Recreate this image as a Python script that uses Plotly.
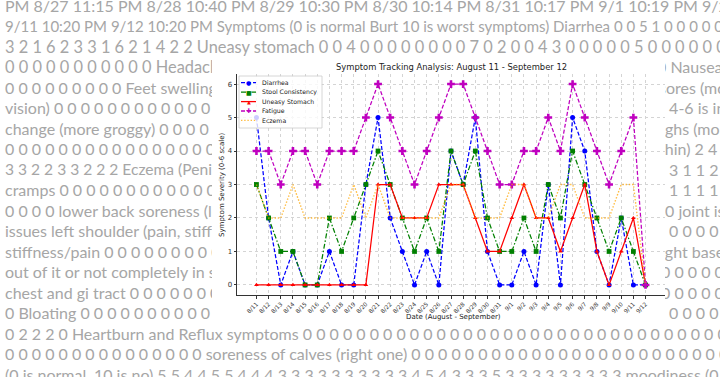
import plotly.graph_objects as go

W, H = 720, 377

# ---------------- chart data ----------------
dates = ["8/11", "8/12", "8/13", "8/14", "8/15", "8/16", "8/17", "8/18", "8/19", "8/20",
         "8/21", "8/22", "8/23", "8/24", "8/25", "8/26", "8/27", "8/28", "8/29", "8/30",
         "8/31", "9/1", "9/2", "9/3", "9/4", "9/5", "9/6", "9/7", "9/8", "9/9",
         "9/10", "9/11", "9/12"]
diarrhea = [5, 2, 0, 1, 0, 0, 1, 0, 0, 3, 5, 2, 1, 0, 1, 0, 4, 3, 5, 1, 0, 0, 1, 0, 3, 0, 5, 4, 1, 0, 2, 0, 0]
stool = [3, 2, 1, 1, 0, 0, 2, 1, 2, 3, 4, 3, 2, 1, 2, 1, 4, 3, 4, 2, 1, 1, 2, 1, 3, 2, 4, 3, 2, 1, 2, 1, 0]
uneasy = [0, 0, 0, 0, 0, 0, 0, 0, 0, 0, 3, 3, 2, 2, 2, 3, 3, 3, 2, 1, 1, 2, 3, 2, 2, 1, 2, 3, 1, 0, 1, 2, 0]
fatigue = [4, 4, 3, 4, 4, 3, 4, 4, 4, 5, 6, 5, 4, 3, 4, 5, 6, 6, 5, 4, 3, 3, 4, 4, 5, 4, 6, 5, 4, 3, 4, 5, 0]
eczema = [3, 2, 2, 3, 2, 2, 2, 2, 3, 2, 3, 2, 2, 2, 2, 2, 3, 3, 2, 2, 2, 3, 3, 2, 2, 3, 3, 2, 2, 2, 3, 3, 0]

series_names = ["Diarrhea", "Stool Consistency", "Uneasy Stomach", "Fatigue", "Eczema"]
chart_title = "Symptom Tracking Analysis: August 11 - September 12"
x_title = "Date (August - September)"
y_title = "Symptom Severity (0-6 scale)"
y_ticks = [0, 1, 2, 3, 4, 5, 6]

# ---------------- background document text ----------------
Z = "0 "
top_lines = [
    "PM 8/27 11:15 PM 8/28 10:40 PM 8/29 10:30 PM 8/30 10:14 PM 8/31 10:17 PM 9/1 10:19 PM 9/2 9:52 PM 9/3",
    "9/11 10:20 PM 9/12 10:20 PM Symptoms (0 is normal Burt 10 is worst symptoms) Diarrhea 0 0 5 1 0 0 0 0 0",
    "3 2 1 6 2 3 3 1 6 2 1 4 2 2 Uneasy stomach 0 0 4 0 0 0 0 0 0 0 0 7 0 2 0 0 4 3 0 0 0 0 0 5 0 0 0 0 0 0 0 3 0 0 0",
]
left_lines = [
    Z * 11 + "Headache 0 0 0",
    Z * 9 + "Feet swelling (ankles)",
    "vision) " + Z * 16,
    "change (more groggy) " + Z * 12,
    Z * 20,
    "3 3 2 2 3 3 2 2 2 Eczema (Penis area)",
    "cramps " + Z * 18,
    Z * 4 + "lower back soreness (left side)",
    "issues left shoulder (pain, stiffness)",
    "stiffness/pain " + Z * 16,
    "out of it or not completely in sync",
    "chest and gi tract " + Z * 16,
    "0 Bloating " + Z * 16,
]
right_lines = [
    "0 Nausea 0 0",
    "sores (mouth)",
    " 4-6 is in",
    "ughs (more",
    "thin) 2 4 4 4",
    " 3 1 1 2 2 2",
    " 1 1 1 1 1 1",
    "0 joint is",
    " 0 0 0 0 0 0",
    "ight base",
    "0 0 0 0 0 0",
    "0 0 0 0 0 0",
    " 0 0 0 0 (",
]
right_x = [657, 659, 665, 656, 659, 665, 665, 665, 665, 661, 661, 661, 665]
bottom_lines = [
    "0 2 2 2 0 Heartburn and Reflux symptoms " + Z * 40,
    Z * 15 + "soreness of calves (right one) " + Z * 30,
    "(0 is normal, 10 is no) 5 5 4 4 5 5 4 4 4 3 3 3 3 3 3 3 3 3 3 4 5 4 3 3 3 5 3 3 3 3 3 3 3 3 3 moodiness (0 not",
]

fig = go.Figure()

# ---------------- main chart traces ----------------
colors = ["#0000ff", "#008000", "#ff0000", "#bf00bf", "rgba(255,165,0,0.75)"]
dashes = ["4px,2px", "5px,2px,1.5px,2px", "solid", "4px,2px", "1.4px,1.8px"]
symbols = ["circle", "square", "triangle-up", "cross", None]
msizes = [5, 4.8, 4.2, 6.5, 0]
widths = [1.25, 1.25, 1.25, 1.25, 1.4]
values = [diarrhea, stool, uneasy, fatigue, eczema]

for name, vals, c, d, s, ms, lw in zip(series_names, values, colors, dashes, symbols, msizes, widths):
    tr = dict(x=dates, y=vals, name=name, line=dict(color=c, width=lw, dash=d),
              showlegend=False, cliponaxis=False, hoverinfo="x+y+name")
    if s:
        tr["mode"] = "lines+markers"
        tr["marker"] = dict(symbol=s, size=ms, color=c, line=dict(width=0))
    else:
        tr["mode"] = "lines"
    fig.add_trace(go.Scatter(**tr))

# ---------------- background text traces (clipped bands) ----------------
BG_FONT, BG_COLOR = "Lato", "#a6a6a6"
Y0, DY = 7.5, 20.5
line_y = [Y0 + DY * i for i in range(19)]

def text_trace(xs, ys, texts, sizes, n):
    return go.Scatter(x=xs, y=ys, text=texts, mode="text", textposition="middle right",
                      textfont=dict(family=BG_FONT, size=sizes, color=BG_COLOR),
                      xaxis=f"x{n}", yaxis=f"y{n}", hoverinfo="skip",
                      showlegend=False, cliponaxis=True)

left_sizes = [16.4, 16, 16, 16, 16, 15.6, 16, 16, 16, 16, 16, 16, 16]
fig.add_trace(text_trace([5] * 3, line_y[0:3], top_lines, [16, 15, 16.4], 2))
fig.add_trace(text_trace([5] * 3, line_y[16:19], bottom_lines, [16, 16, 16], 3))
fig.add_trace(text_trace([5] * 13, line_y[3:16], left_lines, left_sizes, 4))
fig.add_trace(text_trace(right_x, line_y[3:16], right_lines, [16] * 13, 5))

BOX_T, BOX_B, BOX_L, BOX_R = 60, 324, 212, 665

def band_axes(n, x0, x1, y0, y1):
    return {
        f"xaxis{n}": dict(domain=[x0 / W, x1 / W], range=[x0, x1], visible=False,
                          fixedrange=True, anchor=f"y{n}"),
        f"yaxis{n}": dict(domain=[1 - y1 / H, 1 - y0 / H], range=[y1, y0], visible=False,
                          fixedrange=True, anchor=f"x{n}"),
    }

layout_axes = {}
layout_axes.update(band_axes(2, 0, W, 0, BOX_T))
layout_axes.update(band_axes(3, 0, W, BOX_B, H))
layout_axes.update(band_axes(4, 0, BOX_L, BOX_T, BOX_B))
layout_axes.update(band_axes(5, BOX_R, W, BOX_T, BOX_B))

# ---------------- plot area geometry ----------------
PL, PR, PT, PB = 237, 665, 74, 295

def fx(x):
    return x / W

def fy(y):
    return 1 - y / H

AX_COL = "#333333"
GRID = "#d4d4d4"

fig.update_layout(
    width=W, height=H, autosize=False,
    margin=dict(l=0, r=0, t=0, b=0, pad=0),
    paper_bgcolor="white", plot_bgcolor="white",
    showlegend=False,
    xaxis=dict(domain=[fx(PL), fx(PR)], type="category", range=[-1.6, len(dates) - 1 + 1.6],
               tickangle=-45, tickfont=dict(family="DejaVu Sans", size=5.8, color=AX_COL),
               showgrid=True, gridcolor=GRID, griddash="dot", gridwidth=0.8,
               showline=True, linecolor=AX_COL, linewidth=1, ticks="outside", ticklen=2.5,
               tickcolor=AX_COL, tickwidth=0.8, zeroline=False, fixedrange=True, anchor="y"),
    yaxis=dict(domain=[fy(PB), fy(PT)], range=[-0.3, 6.3], tickvals=y_ticks,
               tickfont=dict(family="DejaVu Sans", size=7, color=AX_COL),
               showgrid=True, gridcolor=GRID, griddash="dot", gridwidth=0.8,
               showline=True, linecolor=AX_COL, linewidth=1, ticks="outside", ticklen=2.5,
               tickcolor=AX_COL, tickwidth=0.8, zeroline=False, fixedrange=True, anchor="x"),
    **layout_axes,
)

def ann(text, x, y, size, color="#222", xanchor="center", angle=0, family="DejaVu Sans"):
    return dict(text=text, x=fx(x), y=fy(y), xref="paper", yref="paper", showarrow=False,
                xanchor=xanchor, yanchor="middle", textangle=angle,
                font=dict(family=family, size=size, color=color))

annotations = [
    ann(chart_title, (PL + PR) / 2, 67, 8.4),
    ann(x_title, 453, 316.5, 7),
    ann(y_title, 222, 185, 7, angle=-90),
]

# ---------------- legend (drawn manually, compact like the original) ----------------
shapes = [dict(type="rect", xref="paper", yref="paper", x0=fx(239), x1=fx(322), y0=fy(128), y1=fy(76),
               line=dict(color="#cccccc", width=0.8), fillcolor="rgba(255,255,255,0.8)", layer="above")]
leg_y = [82.7, 92.2, 101.6, 111.0, 120.4]
marker_chars = ["\u25cf", "\u25a0", "\u25b2", "\u271a", None]
marker_sizes = [6, 6, 5, 6.5, 0]
for name, c, d, mch, msz, yy in zip(series_names, colors, dashes, marker_chars, marker_sizes, leg_y):
    shapes.append(dict(type="line", xref="paper", yref="paper", x0=fx(241), x1=fx(256), y0=fy(yy), y1=fy(yy),
                       line=dict(color=c, width=1.3, dash=d), layer="above"))
    if mch:
        annotations.append(ann(mch, 248.5, yy, msz, color=c))
    annotations.append(ann(name, 260, yy, 6.2, xanchor="left"))

fig.update_layout(shapes=shapes, annotations=annotations)

fig.write_html("out.html", config={"displayModeBar": False},
               post_script="document.body.style.margin='0px';document.body.style.overflow='hidden';")
